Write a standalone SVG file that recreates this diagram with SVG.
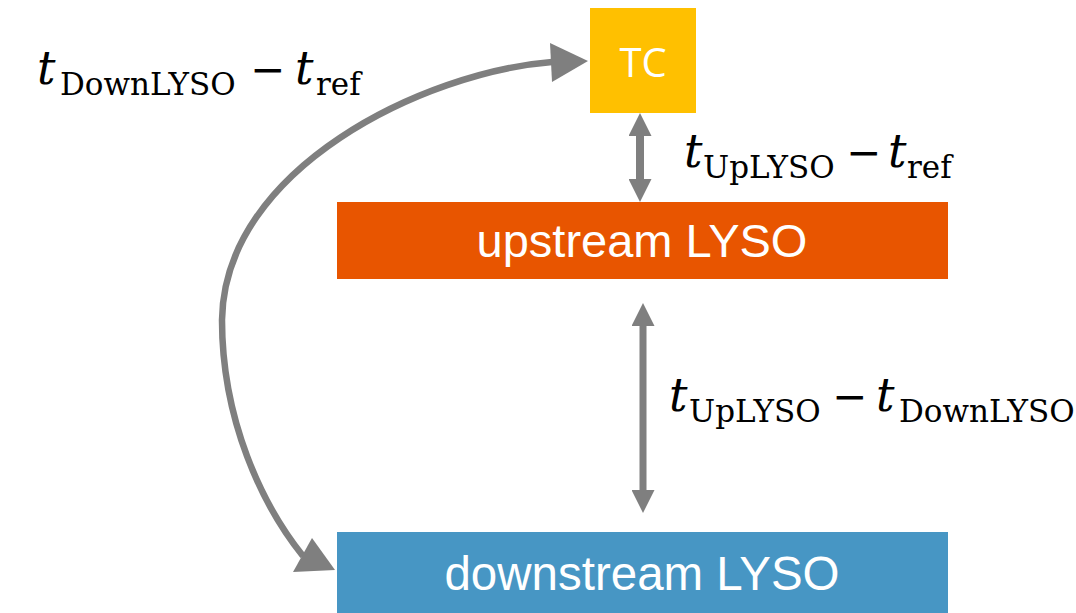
<svg xmlns="http://www.w3.org/2000/svg" width="1076" height="613" viewBox="0 0 1076 613">
  <style>
    .conn { stroke: #7F7F7F; fill: none; }
    .head { fill: #7F7F7F; }
    .box-label { fill: #FFFFFF; font-family: "Liberation Sans", Arial, sans-serif; text-anchor: middle; }
    .math { font-family: "DejaVu Serif", "Liberation Serif", serif; fill: #000000; }
    .mi { font-style: italic; font-size: 46px; }
    .sub { font-size: 31px; }
    .op { font-size: 42px; }
  </style>
  <defs>
    <marker id="arrowhead" markerUnits="userSpaceOnUse" viewBox="0 0 23 23" markerWidth="23" markerHeight="23" refX="0" refY="11.5" orient="auto-start-reverse">
      <path d="M0,0 L23,11.5 L0,23 z" fill="#7F7F7F"/>
    </marker>
  </defs>
  <rect width="1076" height="613" fill="#FFFFFF"/>

  <g id="node-tc">
    <rect x="590" y="8" width="106" height="105" fill="#FFC000"/>
    <text x="643" y="77" class="box-label" style="font-family: 'Open Sans', sans-serif; font-size: 40px;">TC</text>
  </g>

  <g id="node-upstream">
    <rect x="337" y="202" width="611" height="77" fill="#E85500"/>
    <text x="642" y="257" class="box-label" font-size="47">upstream LYSO</text>
  </g>

  <g id="node-downstream">
    <rect x="337" y="532" width="611" height="81" fill="#4796C4"/>
    <text x="642" y="590" class="box-label" font-size="47.5">downstream LYSO</text>
  </g>

  <g id="connectors">
    <line class="conn" x1="640" y1="136" x2="640" y2="179" stroke-width="8" marker-start="url(#arrowhead)" marker-end="url(#arrowhead)"/>
    <line class="conn" x1="643" y1="326" x2="643" y2="490" stroke-width="7" marker-start="url(#arrowhead)" marker-end="url(#arrowhead)"/>
    <path class="conn" stroke-width="6.5" d="M552,62 C425,72 224,168 222,320 C222,420 262,505 303,556"/>
    <polygon class="head" points="588,61 550,43 552,82"/>
    <polygon class="head" points="335,570 293,572 312,538"/>
  </g>

  <g id="label-down-ref" class="math">
    <text><tspan class="mi" x="37" y="84">t</tspan><tspan class="sub" x="60" y="95">DownLYSO</tspan><tspan class="op" x="250" y="84">−</tspan><tspan class="mi" x="295" y="84">t</tspan><tspan class="sub" x="316" y="95">ref</tspan></text>
  </g>
  <g id="label-up-ref" class="math">
    <text><tspan class="mi" x="684" y="167">t</tspan><tspan class="sub" x="703" y="178">UpLYSO</tspan><tspan class="op" x="846" y="167">−</tspan><tspan class="mi" x="888" y="167">t</tspan><tspan class="sub" x="907" y="178">ref</tspan></text>
  </g>
  <g id="label-up-down" class="math">
    <text><tspan class="mi" x="669" y="411">t</tspan><tspan class="sub" x="689" y="422">UpLYSO</tspan><tspan class="op" x="832" y="411">−</tspan><tspan class="mi" x="876" y="411">t</tspan><tspan class="sub" x="899" y="422">DownLYSO</tspan></text>
  </g>
</svg>
